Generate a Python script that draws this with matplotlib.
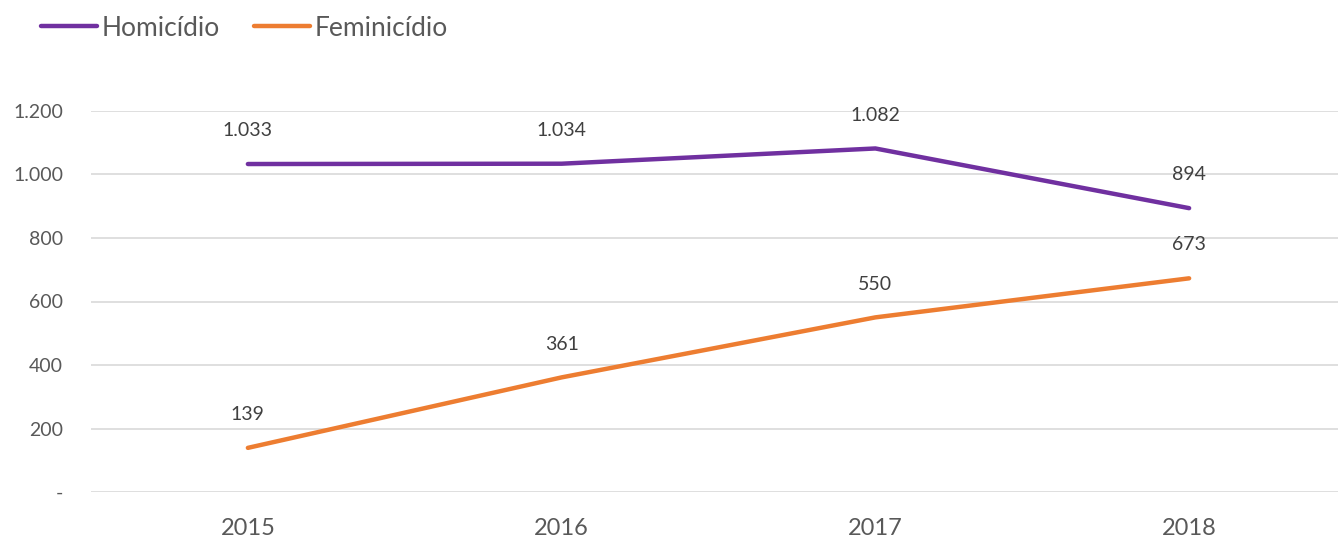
import matplotlib
matplotlib.use('Agg')
import matplotlib.pyplot as plt
from matplotlib.ticker import FuncFormatter

years = ['2015', '2016', '2017', '2018']
homicidio = [1033, 1034, 1082, 894]
feminicidio = [139, 361, 550, 673]
yticks = [0, 200, 400, 600, 800, 1000, 1200]

plt.rcParams['font.family'] = ['Lato', 'DejaVu Sans']
grey = '#595959'


def fmt_br(v, pos=None):
    # thousands separator with a dot, zero shown as a dash
    if v == 0:
        return '-'
    return '{:,.0f}'.format(v).replace(',', '.')


fig = plt.figure(figsize=(13.38, 5.41), dpi=100)
ax = fig.add_axes([91 / 1338, 1 - 492 / 541, 1255 / 1338, (492 - 111) / 541])

x = range(len(years))
ax.plot(x, homicidio, color='#7030A0', lw=3.2, solid_capstyle='round', label='Homicídio')
ax.plot(x, feminicidio, color='#ED7D31', lw=3.2, solid_capstyle='round', label='Feminicídio')

for xi, v in zip(x, homicidio):
    ax.annotate(fmt_br(v), (xi, v), xytext=(0, 24), textcoords='offset points',
                ha='center', va='center', fontsize=14, color='#404040')
for xi, v in zip(x, feminicidio):
    ax.annotate(fmt_br(v), (xi, v), xytext=(0, 24), textcoords='offset points',
                ha='center', va='center', fontsize=14, color='#404040')

ax.set_xlim(-0.5, 3.5)
ax.set_ylim(0, 1200)
ax.set_xticks(list(x))
ax.set_xticklabels(years, fontsize=17, color=grey)
ax.set_yticks(yticks)
ax.yaxis.set_major_formatter(FuncFormatter(fmt_br))
ax.tick_params(axis='y', length=0, pad=20, labelsize=14, labelcolor=grey)
ax.tick_params(axis='x', length=0, pad=19)
ax.grid(axis='y', color='#D9D9D9', lw=1.2)
ax.set_axisbelow(True)
for s in ax.spines.values():
    s.set_visible(False)

fig.legend(loc='upper left', bbox_to_anchor=(0.013, 1.015), ncol=2, frameon=False,
           fontsize=19, labelcolor=grey, handlelength=2.1, handletextpad=0.2,
           columnspacing=1.3)

fig.savefig('out.png', dpi=100)
